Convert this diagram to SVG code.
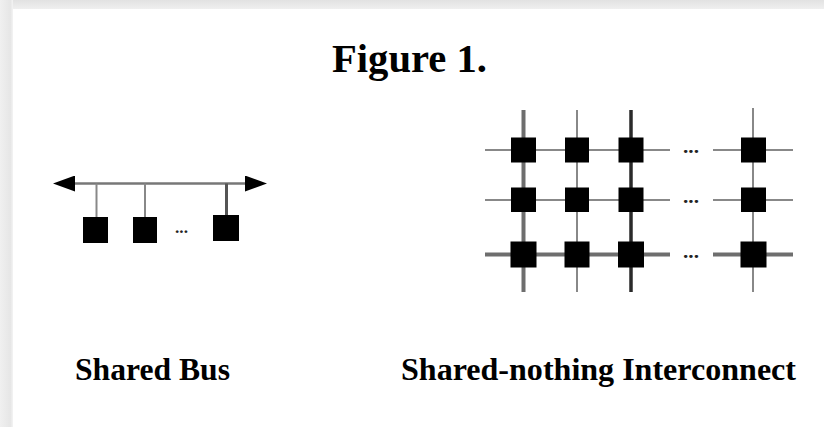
<svg xmlns="http://www.w3.org/2000/svg" width="824" height="427" viewBox="0 0 824 427">
  <defs>
    <style>
      .lbl { font-family: "Liberation Serif", "Times New Roman", serif; font-weight: bold; fill: #000; }
      .dots { font-family: "Liberation Serif", "Times New Roman", serif; font-weight: bold; fill: #222; }
      .node { fill: #000; }
      .thin { stroke: #888; stroke-width: 2; fill: none; }
      .thick { stroke: #6e6e6e; stroke-width: 4; fill: none; }
      .thickdark { stroke: #2a2a2a; stroke-width: 3.5; fill: none; }
    </style>
    <linearGradient id="topband" x1="0" y1="0" x2="0" y2="1">
      <stop offset="0" stop-color="#e2e2e2"/>
      <stop offset="1" stop-color="#efefef"/>
    </linearGradient>
    <linearGradient id="leftband" x1="0" y1="0" x2="1" y2="0">
      <stop offset="0" stop-color="#f0f0f0"/>
      <stop offset="0.8" stop-color="#e6e6e6"/>
      <stop offset="1" stop-color="#f4f4f4"/>
    </linearGradient>
    <marker id="arrow" viewBox="0 0 22 16" refX="0" refY="8" markerWidth="22" markerHeight="16" markerUnits="userSpaceOnUse" orient="auto-start-reverse">
      <path d="M0,0 L22,8 L0,16 Z" fill="#000"/>
    </marker>
  </defs>

  <rect x="0" y="0" width="824" height="427" fill="#ffffff"/>
  <rect x="0" y="0" width="824" height="9" fill="url(#topband)"/>
  <rect x="0" y="0" width="13" height="427" fill="url(#leftband)"/>

  <text class="lbl" x="332" y="72" font-size="41" textLength="155" lengthAdjust="spacingAndGlyphs">Figure 1.</text>

  <g id="connectors">
    <!-- shared bus -->
    <line x1="75" y1="183.5" x2="245" y2="183.5" stroke="#777" stroke-width="2.5" marker-start="url(#arrow)" marker-end="url(#arrow)"/>
    <line class="thin" x1="96.5" y1="183.5" x2="96.5" y2="217"/>
    <line class="thin" x1="145" y1="183.5" x2="145" y2="217"/>
    <line stroke="#555" stroke-width="3" x1="226.5" y1="183.5" x2="226.5" y2="215"/>

    <!-- grid horizontals -->
    <line class="thin" x1="485" y1="150" x2="670" y2="150"/>
    <line class="thin" x1="713" y1="150" x2="793" y2="150"/>
    <line class="thin" x1="485" y1="200" x2="670" y2="200"/>
    <line class="thin" x1="713" y1="200" x2="793" y2="200"/>
    <line class="thick" x1="485" y1="254.5" x2="670" y2="254.5"/>
    <line class="thick" x1="713" y1="254.5" x2="793" y2="254.5"/>
    <!-- grid verticals -->
    <line class="thick" x1="523.5" y1="110" x2="523.5" y2="292"/>
    <line class="thin" x1="577" y1="110" x2="577" y2="292"/>
    <line class="thickdark" x1="631" y1="110" x2="631" y2="292"/>
    <line class="thin" x1="753" y1="108" x2="753" y2="292"/>
  </g>

  <g id="bus-node-1"><rect class="node" x="83" y="217" width="25" height="26"/></g>
  <g id="bus-node-2"><rect class="node" x="133" y="217" width="24" height="26"/></g>
  <g id="bus-node-3"><rect class="node" x="213" y="215" width="26" height="26"/></g>
  <text class="dots" x="175" y="233" font-size="17" textLength="13" lengthAdjust="spacingAndGlyphs">...</text>

  <g id="grid-r1-c1"><rect class="node" x="511" y="137.5" width="25" height="25"/></g>
  <g id="grid-r1-c2"><rect class="node" x="565" y="137.5" width="24" height="25"/></g>
  <g id="grid-r1-c3"><rect class="node" x="618.5" y="137.5" width="25" height="25"/></g>
  <g id="grid-r1-c4"><rect class="node" x="741" y="137.5" width="25" height="25"/></g>

  <g id="grid-r2-c1"><rect class="node" x="511" y="187.5" width="25" height="24.5"/></g>
  <g id="grid-r2-c2"><rect class="node" x="565" y="187.5" width="24" height="24.5"/></g>
  <g id="grid-r2-c3"><rect class="node" x="618.5" y="187.5" width="25" height="24.5"/></g>
  <g id="grid-r2-c4"><rect class="node" x="741" y="187.5" width="25" height="24.5"/></g>

  <g id="grid-r3-c1"><rect class="node" x="510.5" y="241.5" width="26" height="26"/></g>
  <g id="grid-r3-c2"><rect class="node" x="564.5" y="241.5" width="25" height="26"/></g>
  <g id="grid-r3-c3"><rect class="node" x="618" y="241.5" width="26" height="26"/></g>
  <g id="grid-r3-c4"><rect class="node" x="740.5" y="241.5" width="26" height="26"/></g>

  <text class="dots" x="683" y="153" font-size="18" textLength="16" lengthAdjust="spacingAndGlyphs">...</text>
  <text class="dots" x="683" y="203" font-size="18" textLength="16" lengthAdjust="spacingAndGlyphs">...</text>
  <text class="dots" x="683" y="257.5" font-size="18" textLength="16" lengthAdjust="spacingAndGlyphs">...</text>

  <text class="lbl" x="75" y="380" font-size="32" textLength="155" lengthAdjust="spacingAndGlyphs">Shared Bus</text>
  <text class="lbl" x="401" y="380" font-size="32" textLength="395" lengthAdjust="spacingAndGlyphs">Shared-nothing Interconnect</text>
</svg>
